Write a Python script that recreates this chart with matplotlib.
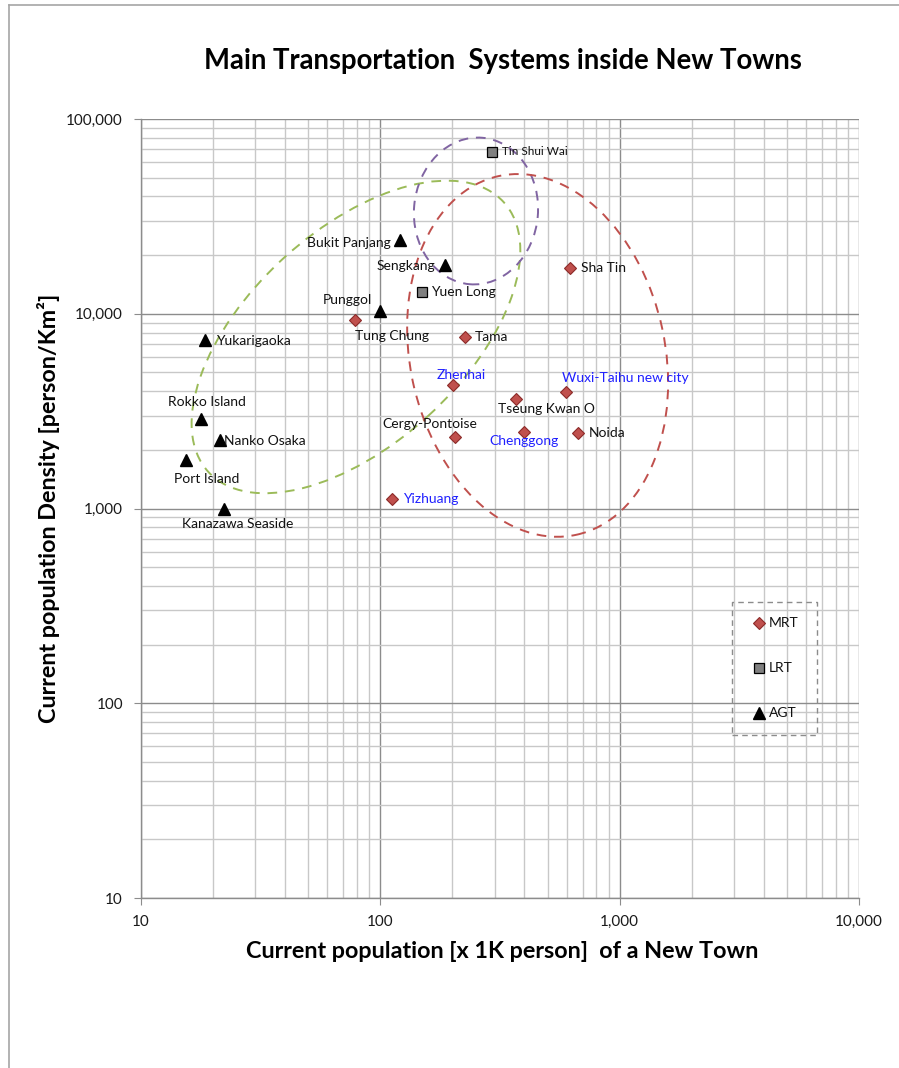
import matplotlib
matplotlib.use("Agg")
import matplotlib.pyplot as plt
from matplotlib.patches import Ellipse
from matplotlib.lines import Line2D
from matplotlib.ticker import FuncFormatter, LogLocator, NullFormatter
from matplotlib.transforms import ScaledTranslation

plt.rcParams['font.family'] = ['Lato', 'DejaVu Sans']

# ---- data: population [x1K person] and density [person/km2] ----
mrt_names = ["Tung Chung", "Tama", "Sha Tin", "Zhenhai", "Tseung Kwan O",
             "Wuxi-Taihu new city", "Cergy-Pontoise", "Chenggong", "Noida", "Yizhuang"]
mrt_pop = [78, 226, 620, 201, 369, 597, 205, 398, 670, 112]
mrt_density = [9300, 7600, 17200, 4300, 3650, 3960, 2330, 2470, 2440, 1120]

lrt_names = ["Tin Shui Wai", "Yuen Long"]
lrt_pop = [293, 149]
lrt_density = [67800, 12900]

agt_names = ["Bukit Panjang", "Sengkang", "Punggol", "Yukarigaoka", "Rokko Island",
             "Nanko Osaka", "Port Island", "Kanazawa Seaside"]
agt_pop = [121, 186, 100, 18.5, 17.8, 21.4, 15.4, 22.2]
agt_density = [23900, 17800, 10300, 7330, 2880, 2250, 1770, 1000]

# key drawn inside the plot as three sample points
key_names = ["MRT", "LRT", "AGT"]
key_pop = [3820, 3820, 3820]
key_density = [258, 152, 89]

blue_labels = {"Zhenhai", "Wuxi-Taihu new city", "Chenggong", "Yizhuang"}

# label placement: (dx, dy) in points, ha, va
placement = {
    "Tung Chung": (0, -7, "left", "top"),
    "Tama": (7, 0, "left", "center"),
    "Sha Tin": (8, 0, "left", "center"),
    "Zhenhai": (6, 3, "center", "bottom"),
    "Tseung Kwan O": (22, -3, "center", "top"),
    "Wuxi-Taihu new city": (-3, 6, "left", "bottom"),
    "Cergy-Pontoise": (-18, 5, "center", "bottom"),
    "Chenggong": (0, -2, "center", "top"),
    "Noida": (8, 0, "left", "center"),
    "Yizhuang": (8, 0, "left", "center"),
    "Tin Shui Wai": (7, 0, "left", "center"),
    "Yuen Long": (7, 0, "left", "center"),
    "Bukit Panjang": (-7, -2, "right", "center"),
    "Sengkang": (-7, -1, "right", "center"),
    "Punggol": (-24, 4, "center", "bottom"),
    "Yukarigaoka": (8, -1, "left", "center"),
    "Rokko Island": (4, 8, "center", "bottom"),
    "Nanko Osaka": (3, -1, "left", "center"),
    "Port Island": (15, -9, "center", "top"),
    "Kanazawa Seaside": (10, -7, "center", "top"),
    "MRT": (7, 0, "left", "center"),
    "LRT": (7, 0, "left", "center"),
    "AGT": (7, 0, "left", "center"),
}

RED = "#C0504D"
RED_EDGE = "#8C2A28"
GRAY = "#808080"

fig = plt.figure(figsize=(8.99, 10.68), dpi=100)
ax = fig.add_axes([141 / 899, 1 - 898 / 1068, 718 / 899, 779 / 1068])

ax.set_xscale("log")
ax.set_yscale("log")
ax.set_xlim(10, 10000)
ax.set_ylim(10, 100000)

# grid
ax.xaxis.set_minor_locator(LogLocator(base=10, subs=range(2, 10)))
ax.yaxis.set_minor_locator(LogLocator(base=10, subs=range(2, 10)))
ax.xaxis.set_minor_formatter(NullFormatter())
ax.yaxis.set_minor_formatter(NullFormatter())
ax.grid(which="major", color="#8C8C8C", linewidth=1.0, zorder=0)
ax.grid(which="minor", color="#C8C8C8", linewidth=1.0, zorder=0)
ax.set_axisbelow(True)

for side in ("top", "right"):
    ax.spines[side].set_visible(False)
for side in ("left", "bottom"):
    ax.spines[side].set_color("#8C8C8C")
    ax.spines[side].set_linewidth(1.0)

fmt = FuncFormatter(lambda v, p: f"{int(round(v)):,}")
ax.xaxis.set_major_formatter(fmt)
ax.yaxis.set_major_formatter(fmt)
ax.tick_params(which="major", length=5, color="#8C8C8C", labelsize=11,
               labelcolor="#1A1A1A")
ax.tick_params(which="minor", length=0)
ax.tick_params(axis="x", pad=7)
ax.tick_params(axis="y", pad=8)

# series
ax.plot(mrt_pop, mrt_density, linestyle="none", marker="D", markersize=6.5,
        markerfacecolor=RED, markeredgecolor=RED_EDGE, markeredgewidth=0.8, zorder=5)
ax.plot(lrt_pop, lrt_density, linestyle="none", marker="s", markersize=7,
        markerfacecolor=GRAY, markeredgecolor="black", markeredgewidth=0.9, zorder=5)
ax.plot(agt_pop, agt_density, linestyle="none", marker="^", markersize=8,
        markerfacecolor="black", markeredgecolor="black", zorder=5)

key_styles = [
    dict(marker="D", markersize=6.5, markerfacecolor=RED, markeredgecolor=RED_EDGE, markeredgewidth=0.8),
    dict(marker="s", markersize=7, markerfacecolor=GRAY, markeredgecolor="black", markeredgewidth=0.9),
    dict(marker="^", markersize=8, markerfacecolor="black", markeredgecolor="black"),
]
for x, y, st in zip(key_pop, key_density, key_styles):
    ax.plot([x], [y], linestyle="none", zorder=5, **st)

def label(names, xs, ys, size=10):
    for n, x, y in zip(names, xs, ys):
        dx, dy, ha, va = placement[n]
        ax.annotate(n, (x, y), xytext=(dx, dy), textcoords="offset points",
                    ha=ha, va=va, fontsize=size,
                    color="#2020FF" if n in blue_labels else "#111111", zorder=6)

label(mrt_names, mrt_pop, mrt_density)
label(lrt_names[1:], lrt_pop[1:], lrt_density[1:])
label(lrt_names[:1], lrt_pop[:1], lrt_density[:1], size=8.5)
label(agt_names, agt_pop, agt_density)
label(key_names, key_pop, key_density)

# dashed frame around the key
kx0, kx1, ky0, ky1 = 2945, 6680, 68.7, 331
ax.plot([kx0, kx1, kx1, kx0, kx0], [ky0, ky0, ky1, ky1, ky0], color="#8C8C8C",
        linestyle=(0, (4, 3)), linewidth=1.0, zorder=4)

# grouping ellipses, sized in inches and centred on a data position
def group_ellipse(cx, cy, w, h, angle, color):
    tr = fig.dpi_scale_trans + ScaledTranslation(cx, cy, ax.transData)
    e = Ellipse((0, 0), w, h, angle=angle, transform=tr, fill=False,
                edgecolor=color, linestyle=(0, (5, 4)), linewidth=1.4, zorder=3)
    ax.add_patch(e)

group_ellipse(79.1, 7600, 4.00, 2.14, 42.4, "#9BBB59")
group_ellipse(251, 33700, 1.24, 1.47, -5, "#8064A2")
group_ellipse(454, 6110, 2.55, 3.67, 12.2, "#C0504D")

ax.set_xlabel("Current population [x 1K person]  of a New Town", fontsize=16.8,
              fontweight="bold")
ax.xaxis.set_label_coords(0.503, -0.055)
ax.set_ylabel("Current population Density [person/Km\u00b2]", fontsize=16.8,
              fontweight="bold")
ax.yaxis.set_label_coords(-0.113, 0.5)
fig.text(0.559, 1 - 61 / 1068, "Main Transportation  Systems inside New Towns",
         ha="center", va="center", fontsize=19.8, fontweight="bold")

# outer frame lines
fig.add_artist(Line2D([9 / 899, 9 / 899], [0, 1 - 5 / 1068], color="#A6A6A6",
                      linewidth=1.2, transform=fig.transFigure))
fig.add_artist(Line2D([9 / 899, 1], [1 - 5 / 1068, 1 - 5 / 1068], color="#A6A6A6",
                      linewidth=1.2, transform=fig.transFigure))

fig.savefig("out.png", dpi=100, facecolor="white")
